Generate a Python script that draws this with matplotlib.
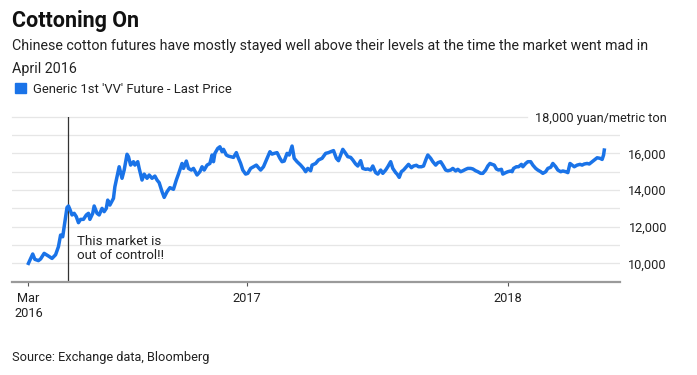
import numpy as np
import matplotlib
matplotlib.use("Agg")
import matplotlib.pyplot as plt

plt.rcParams['font.family'] = ['Roboto', 'DejaVu Sans']

# ---------------- data ----------------
start_date = np.datetime64('2016-03-01')
day_offsets = [
    0, 6, 9, 14, 17, 22, 28, 33, 38, 42, 45, 48, 50, 54, 56, 58, 61, 64, 67, 70,
    73, 77, 81, 84, 86, 90, 92, 96, 99, 103, 106, 109, 111, 114, 119, 121, 124, 127, 131, 134,
    138, 140, 143, 147, 149, 153, 155, 159, 162, 166, 169, 173, 177, 180, 183, 187, 190, 194, 198, 203,
    207, 210, 215, 217, 221, 224, 228, 231, 236, 240, 243, 246, 250, 254, 257, 259, 261, 265, 268, 271,
    273, 277, 280, 283, 287, 291, 293, 297, 300, 304, 307, 311, 315, 319, 322, 325, 329, 333, 338, 341,
    344, 348, 352, 355, 358, 362, 365, 369, 372, 376, 381, 385, 388, 391, 395, 397, 402, 406, 411, 416,
    420, 423, 427, 431, 434, 437, 440, 444, 447, 451, 454, 458, 461, 465, 468, 472, 475, 479, 482, 486,
    489, 493, 496, 500, 503, 507, 510, 514, 516, 519, 522, 525, 529, 532, 536, 539, 543, 546, 550, 553,
    557, 559, 563, 566, 570, 573, 577, 580, 584, 587, 591, 594, 598, 601, 605, 608, 612, 615, 619, 622,
    626, 629, 633, 636, 640, 643, 646, 649, 652, 655, 658, 662, 664, 668, 671, 675, 677, 679, 683, 686,
    690, 692, 696, 699, 703, 706, 710, 713, 717, 720, 724, 727, 731, 734, 738, 741, 745, 748, 752, 755,
    758, 761, 764, 768, 772, 775, 778, 782, 785, 789, 792, 796, 800, 803, 805, 806,
]
prices = [
    10000, 10510, 10220, 10150, 10240, 10545, 10400, 10270, 10470, 10910, 11545, 11450, 12000, 13050, 13130, 12950, 12640, 12730, 12550, 12220,
    12400, 12400, 12640, 12730, 12400, 12730, 13130, 12730, 12640, 13000, 12820, 13000, 13450, 13180, 13545, 14180, 14730, 15270, 14640, 15090,
    15950, 15820, 15360, 15545, 15360, 15545, 15180, 14545, 14870, 14640, 14820, 14640, 14760, 14545, 14400, 13910, 13600, 13910, 14130, 14040,
    14545, 14870, 15450, 15180, 15580, 15180, 15090, 15180, 14820, 15000, 15270, 15090, 15360, 15450, 15910, 15545, 16000, 16270, 16360, 16090,
    16220, 15910, 15850, 15820, 15780, 16040, 15820, 15450, 15090, 14870, 14910, 15180, 15270, 15360, 15220, 15090, 15270, 15640, 16090, 15960,
    16000, 16040, 15730, 15545, 15580, 16000, 15910, 16400, 15730, 15545, 15360, 15180, 15000, 15180, 15050, 15360, 15450, 15640, 15730, 16000,
    16040, 16090, 16150, 15730, 15600, 15910, 16220, 16000, 15820, 15780, 15640, 15420, 15310, 15600, 15180, 15130, 15150, 15090, 15310, 14950,
    14870, 15090, 14910, 15090, 15270, 15545, 15180, 14950, 14870, 14690, 15000, 15090, 15270, 15400, 15220, 15310, 15350, 15270, 15270, 15310,
    15730, 15910, 15730, 15545, 15360, 15490, 15545, 15360, 15090, 15050, 15090, 15180, 15040, 15130, 15000, 15050, 15130, 15180, 15180, 15150,
    15050, 15000, 14910, 14910, 15090, 15310, 15450, 15400, 15360, 15150, 15090, 15130, 14870, 14950, 15000, 15040, 15000, 15180, 15270, 15270,
    15400, 15270, 15450, 15545, 15545, 15360, 15180, 15090, 15000, 14910, 15000, 15180, 15240, 15450, 15270, 15090, 15000, 15040, 15000, 14950,
    15450, 15360, 15270, 15360, 15400, 15360, 15420, 15450, 15420, 15545, 15640, 15760, 15730, 15670, 15910, 16180,
]
series_name = "Generic 1st 'VV' Future - Last Price"
y_ticks = [10000, 12000, 14000, 16000, 18000]
y_tick_labels = ['10,000', '12,000', '14,000', '16,000', '18,000 yuan/metric ton']
grid_levels = [10000, 11000, 12000, 13000, 14000, 15000, 16000, 17000]
x_tick_dates = ['2016-03-01', '2017-01-01', '2018-01-01']
x_tick_labels = ['Mar\n2016', '2017', '2018']
event_date = '2016-04-25'
event_text = "This market is\nout of control!!"
title = "Cottoning On"
subtitle_lines = ["Chinese cotton futures have mostly stayed well above their levels at the time the market went mad in",
                  "April 2016"]
source = "Source: Exchange data, Bloomberg"

dates = (start_date + np.array(day_offsets).astype('timedelta64[D]')).astype('datetime64[D]').astype(object)

# ---------------- layout ----------------
W, H = 697, 375
BLUE = '#1a73e8'
fig = plt.figure(figsize=(W / 100, H / 100), dpi=100)
fig.patch.set_facecolor('white')

def fx(px):
    return px / W

def fy(py):
    return 1 - py / H

ax_left, ax_right, ax_top, ax_bottom = 12, 620, 116.7, 281.7
ax = fig.add_axes([fx(ax_left), fy(ax_bottom), (ax_right - ax_left) / W, (ax_bottom - ax_top) / H])

ax.set_ylim(9000, 18000)
ax.set_xlim(np.datetime64('2016-02-07').astype(object), np.datetime64('2018-06-07').astype(object))

# gridlines
for g in grid_levels:
    ax.axhline(g, color='#e6e6e6', lw=0.9, zorder=1)
ax.axhline(18000, xmin=0, xmax=0.847, color='#e6e6e6', lw=0.9, zorder=1, clip_on=False)

# series
ax.plot(dates, prices, color=BLUE, lw=2.5, zorder=3, solid_joinstyle='round')

# event line + annotation
ev = np.datetime64(event_date).astype(object)
ax.axvline(ev, color='#333333', lw=0.9, zorder=2)
ax.text(ev + np.timedelta64(13, 'D').astype(object), 11560, event_text, fontsize=9.6,
        color='#222222', va='top', ha='left', linespacing=1.12, zorder=4)

# spines
for s in ['top', 'right', 'left']:
    ax.spines[s].set_visible(False)
ax.spines['bottom'].set_color('#9a9a9a')
ax.spines['bottom'].set_linewidth(1.6)

# x ticks
ax.set_xticks([np.datetime64(d).astype(object) for d in x_tick_dates])
ax.set_xticklabels(x_tick_labels)
ax.tick_params(axis='x', length=3, width=0.8, color='#555555', pad=4.5, labelsize=9.2,
               labelcolor='#222222')
for lab in ax.get_xticklabels():
    lab.set_linespacing(1.22)

# y ticks on right
ax.yaxis.tick_right()
ax.set_yticks(y_ticks)
ax.set_yticklabels(y_tick_labels)
ax.tick_params(axis='y', length=0, pad=33.8, labelsize=9.2, labelcolor='#222222')
for lab in ax.get_yticklabels():
    lab.set_horizontalalignment('right')

# header
fig.text(fx(12.5), fy(26.7), title, fontsize=15.5, fontweight='bold', color='#111111', va='baseline')
fig.text(fx(12.5), fy(50), subtitle_lines[0], fontsize=10.3, color='#222222', va='baseline')
fig.text(fx(12.5), fy(73.3), subtitle_lines[1], fontsize=10.3, color='#222222', va='baseline')

# legend
fig.patches.append(plt.Rectangle((fx(15), fy(93.3)), 11 / W, 10.5 / H, transform=fig.transFigure,
                                 color=BLUE, figure=fig))
fig.text(fx(33.3), fy(92.7), series_name, fontsize=9.4, color='#222222', va='baseline')

# source
fig.text(fx(12.5), fy(360.7), source, fontsize=9.2, color='#222222', va='baseline')

fig.savefig('out.png', dpi=100, facecolor='white')
